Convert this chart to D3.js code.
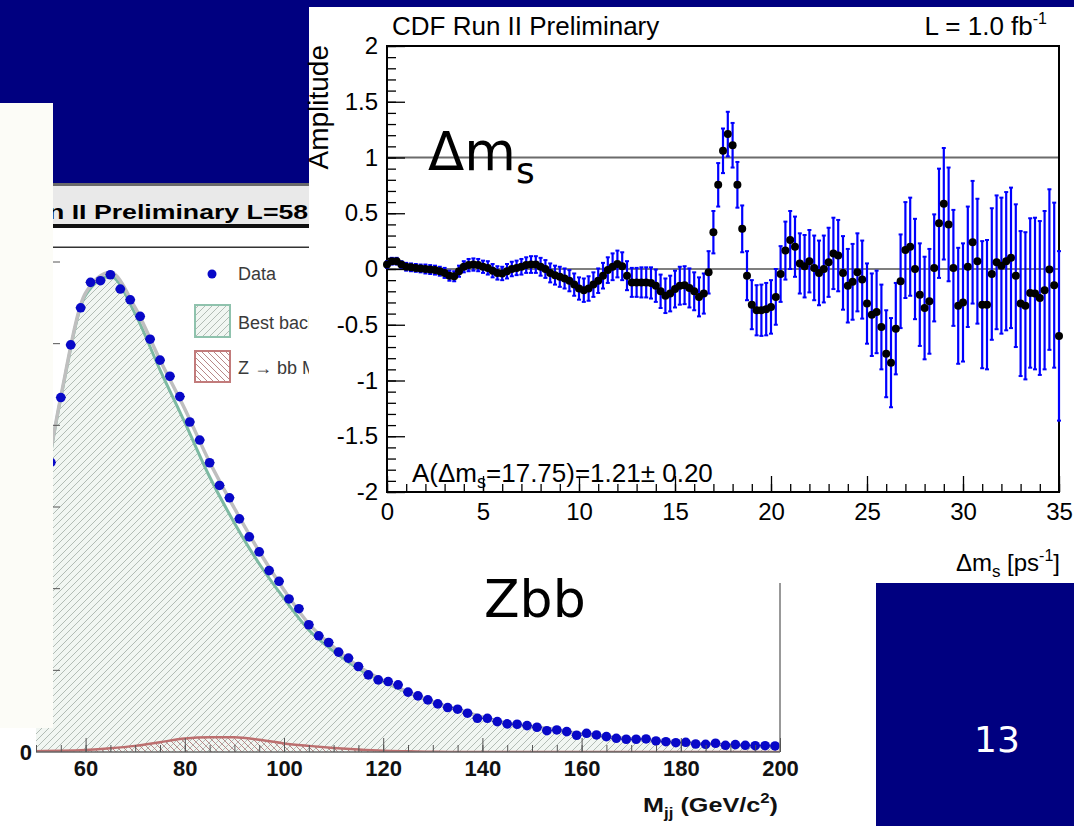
<!DOCTYPE html>
<html>
<head>
<meta charset="utf-8">
<script src="https://cdn.jsdelivr.net/npm/d3@7"></script>
<style>
html, body { margin: 0; padding: 0; background: #fff; }
svg { display: block; }
</style>
</head>
<body>
<svg id="slide" width="1074" height="826"></svg>
<script>
// ---- amplitude scan, dms = 0 ... 35 ps^-1 in 0.25 steps
const ampDms = d3.range(141).map(i => i * 0.25);
const ampValues = [
    0.04, 0.07, 0.07, 0.04, 0.02, 0.015, 0.01, 0.005,
    0.0, -0.005, -0.01, -0.02, -0.035, -0.06, -0.065, -0.02,
    0.02, 0.035, 0.04, 0.035, 0.02, 0.01, -0.015, -0.035,
    -0.04, -0.02, 0.0, 0.01, 0.02, 0.035, 0.04, 0.04,
    0.02, 0.0, -0.035, -0.055, -0.07, -0.085, -0.105, -0.14,
    -0.175, -0.19, -0.175, -0.14, -0.105, -0.06, -0.01, 0.02,
    0.045, 0.025, -0.06, -0.12, -0.12, -0.12, -0.12, -0.125,
    -0.15, -0.2, -0.24, -0.22, -0.18, -0.15, -0.145, -0.17,
    -0.20, -0.25, -0.22, -0.03, 0.33, 0.755, 1.06, 1.21,
    1.11, 0.755, 0.36, -0.06, -0.32, -0.37, -0.37, -0.36,
    -0.34, -0.25, -0.045, 0.165, 0.26, 0.20, 0.05, 0.025,
    0.07, 0.01, -0.035, 0.0, 0.06, 0.14, 0.12, -0.035,
    -0.15, -0.115, -0.03, -0.095, -0.31, -0.41, -0.385, -0.52,
    -0.76, -0.84, -0.535, -0.11, 0.17, 0.20, 0.0, -0.23,
    -0.35, -0.29, 0.01, 0.41, 0.585, 0.40, 0.01, -0.33,
    -0.30, 0.02, 0.24, 0.07, -0.32, -0.32, -0.045, 0.06,
    0.03, 0.07, 0.10, -0.06, -0.31, -0.33, -0.215, -0.22,
    -0.26, -0.19, -0.005, -0.145, -0.60
];
const ampErrors = [
    0.03, 0.03, 0.03, 0.03, 0.035, 0.035, 0.035, 0.035,
    0.04, 0.04, 0.04, 0.04, 0.045, 0.045, 0.045, 0.05,
    0.05, 0.055, 0.055, 0.055, 0.055, 0.06, 0.06, 0.06,
    0.06, 0.065, 0.065, 0.065, 0.07, 0.07, 0.075, 0.075,
    0.08, 0.08, 0.085, 0.085, 0.09, 0.09, 0.095, 0.1,
    0.1, 0.105, 0.11, 0.11, 0.11, 0.115, 0.115, 0.12,
    0.12, 0.125, 0.13, 0.13, 0.13, 0.135, 0.135, 0.14,
    0.145, 0.15, 0.155, 0.16, 0.165, 0.17, 0.17, 0.175,
    0.17, 0.175, 0.18, 0.19, 0.19, 0.195, 0.2, 0.2,
    0.2, 0.205, 0.21, 0.22, 0.22, 0.225, 0.23, 0.235,
    0.24, 0.25, 0.25, 0.26, 0.26, 0.27, 0.27, 0.28,
    0.28, 0.29, 0.29, 0.3, 0.31, 0.32, 0.32, 0.33,
    0.33, 0.34, 0.35, 0.35, 0.36, 0.37, 0.37, 0.38,
    0.39, 0.4, 0.41, 0.42, 0.43, 0.44, 0.45, 0.46,
    0.46, 0.47, 0.48, 0.49, 0.5, 0.51, 0.52, 0.52,
    0.53, 0.54, 0.55, 0.56, 0.57, 0.58, 0.59, 0.6,
    0.61, 0.62, 0.63, 0.64, 0.65, 0.66, 0.67, 0.68,
    0.69, 0.71, 0.72, 0.74, 0.76
];
const ampXTicks = [0, 5, 10, 15, 20, 25, 30, 35];
const ampYTicks = [-2, -1.5, -1, -0.5, 0, 0.5, 1, 1.5, 2];

// ---- dijet mass, 2 GeV bins
const mjjCenters = d3.range(53, 200, 2);
const mjjData = [
    3546, 4340, 4985, 5439, 5751, 5771, 5844, 5669, 5537, 5334,
    5055, 4798, 4601, 4352, 4041, 3820, 3542, 3264, 3113, 2855,
    2634, 2450, 2221, 2090, 1874, 1755, 1558, 1423, 1341, 1223,
    1150, 1047, 945, 883, 863, 822, 733, 687, 638, 589,
    544, 524, 475, 413, 413, 372, 344, 340, 323, 303,
    261, 270, 249, 205, 229, 209, 188, 168, 156, 156,
    160, 135, 126, 114, 119, 98, 94, 107, 82, 90,
    82, 77, 77, 74
];
const fitMass = d3.range(50, 201, 5);
const bkgFit = [
    2590, 4335, 5595, 5825, 5365, 4680, 4035, 3370, 2805, 2305,
    1880, 1495, 1235, 1020, 860, 727, 609, 520, 425, 350,
    312, 270, 220, 188, 158, 137, 117, 97, 87, 78, 74
];
const zbbFit = [
    10, 15, 25, 45, 75, 120, 165, 180, 180, 150,
    105, 75, 50, 30, 15, 8, 3, 0, 0, 0,
    0, 0, 0, 0, 0, 0, 0, 0, 0, 0, 0
];
const mjjTicks = [60, 80, 100, 120, 140, 160, 180, 200];

const NAVY = '#000080';
const ROOT_FONT = "'Liberation Sans', Arial, sans-serif";
const SLIDE_FONT = "'DejaVu Sans', sans-serif";

const svg = d3.select('#slide');
const defs = svg.append('defs');

// slide background
svg.append('rect').attr('width', 1074).attr('height', 826).attr('fill', '#fff');
svg.append('rect').attr('x', 0).attr('y', 0).attr('width', 1074).attr('height', 7).attr('fill', NAVY);
svg.append('rect').attr('x', 0).attr('y', 0).attr('width', 310).attr('height', 184).attr('fill', NAVY);

// hatch patterns
const hb = defs.append('pattern').attr('id', 'hatchBkg')
    .attr('patternUnits', 'userSpaceOnUse').attr('width', 7).attr('height', 7);
hb.append('rect').attr('width', 7).attr('height', 7).attr('fill', '#f1f6f2');
hb.append('path').attr('d', 'M-1,1 l2,-2 M0,7 l7,-7 M6,8 l2,-2')
    .attr('stroke', '#aab5ae').attr('stroke-width', 0.9);
const hz = defs.append('pattern').attr('id', 'hatchZ')
    .attr('patternUnits', 'userSpaceOnUse').attr('width', 6).attr('height', 6);
hz.append('path').attr('d', 'M-1,5 l2,2 M0,0 l6,6 M5,-1 l2,2')
    .attr('stroke', '#b07a7a').attr('stroke-width', 0.9);

defs.append('clipPath').attr('id', 'mjjClip')
    .append('rect').attr('x', 36).attr('y', 248).attr('width', 744).attr('height', 504);
// the part of the dijet figure not hidden by the amplitude figure
defs.append('clipPath').attr('id', 'leftVisible')
    .append('path').attr('d', 'M0,183 H309 V583 H876 V826 H0 Z');

// ================= left: dijet mass plot =================
const mx = d3.scaleLinear().domain([50, 200]).range([36, 780]);
const my = d3.scaleLinear().domain([0, 6000]).range([752, 262]);
const mjj = svg.append('g').attr('clip-path', 'url(#leftVisible)');

mjj.append('rect').attr('x', 0).attr('y', 183).attr('width', 876).attr('height', 3).attr('fill', '#6a6a6a');
mjj.append('rect').attr('x', 0).attr('y', 186).attr('width', 876).attr('height', 38).attr('fill', '#e9e9e9');
mjj.append('rect').attr('x', 0).attr('y', 224).attr('width', 876).attr('height', 4).attr('fill', '#111');
mjj.append('rect').attr('x', 0).attr('y', 246.5).attr('width', 876).attr('height', 1.5).attr('fill', '#333');

// only the part of the header that shows between the covers
mjj.append('text')
    .attr('transform', 'translate(48,219) scale(1.27,1)')
    .attr('font-family', ROOT_FONT).attr('font-weight', 'bold').attr('font-size', 21)
    .text('n II Preliminary L=58');

const fit = fitMass.map((m, i) => ({ m: m, b: bkgFit[i], z: zbbFit[i] }));
const plotArea = mjj.append('g').attr('clip-path', 'url(#mjjClip)');

plotArea.append('path').datum(fit)
    .attr('d', d3.area().x(d => mx(d.m)).y0(my(0)).y1(d => my(d.b)).curve(d3.curveMonotoneX))
    .attr('fill', 'url(#hatchBkg)');
plotArea.append('path').datum(fit)
    .attr('d', d3.line().x(d => mx(d.m)).y(d => my(d.b)).curve(d3.curveMonotoneX))
    .attr('fill', 'none').attr('stroke', '#7db9a2').attr('stroke-width', 3);
plotArea.append('path').datum(fit)
    .attr('d', d3.line().x(d => mx(d.m)).y(d => my(d.b + d.z)).curve(d3.curveMonotoneX))
    .attr('fill', 'none').attr('stroke', '#bfbfbf').attr('stroke-width', 3.5);
plotArea.append('path').datum(fit)
    .attr('d', d3.area().x(d => mx(d.m)).y0(my(0)).y1(d => my(d.z)).curve(d3.curveMonotoneX))
    .attr('fill', 'url(#hatchZ)');
plotArea.append('path').datum(fit)
    .attr('d', d3.line().x(d => mx(d.m)).y(d => my(d.z)).curve(d3.curveMonotoneX))
    .attr('fill', 'none').attr('stroke', '#bc6f6f').attr('stroke-width', 2.5);

// right frame, x axis, y ticks
mjj.append('line').attr('x1', 780).attr('x2', 780).attr('y1', 248).attr('y2', 752)
    .attr('stroke', '#777').attr('stroke-width', 1.5);
mjj.append('line').attr('x1', 36).attr('x2', 780).attr('y1', 752).attr('y2', 752)
    .attr('stroke', '#666').attr('stroke-width', 1.5);
mjj.selectAll('line.ytick').data(d3.range(1000, 6001, 1000)).join('line')
    .attr('class', 'ytick')
    .attr('x1', 36).attr('x2', 60).attr('y1', d => my(d)).attr('y2', d => my(d))
    .attr('stroke', '#555').attr('stroke-width', 1);

const mMinor = mjj.append('g').attr('transform', 'translate(0,752)')
    .call(d3.axisBottom(mx).tickValues(d3.range(50, 201, 5)).tickSize(-7).tickSizeOuter(0).tickFormat(''));
const mMajor = mjj.append('g').attr('transform', 'translate(0,752)')
    .call(d3.axisBottom(mx).tickValues(mjjTicks).tickSize(-14).tickSizeOuter(0).tickPadding(8));
[mMinor, mMajor].forEach(g => {
    g.select('.domain').remove();
    g.selectAll('.tick line').attr('stroke', '#555');
});
mMajor.selectAll('text')
    .attr('font-family', ROOT_FONT).attr('font-weight', 'bold').attr('font-size', 22).attr('fill', '#111');
mjj.append('text').attr('x', 32).attr('y', 752).attr('dy', '0.35em').attr('text-anchor', 'end')
    .attr('font-family', ROOT_FONT).attr('font-weight', 'bold').attr('font-size', 22).attr('fill', '#111')
    .text('0');

const mTitle = mjj.append('text').attr('transform', 'translate(778,812) scale(1.2,1)').attr('text-anchor', 'end')
    .attr('font-family', ROOT_FONT).attr('font-weight', 'bold').attr('font-size', 21).attr('fill', '#111');
mTitle.append('tspan').text('M');
mTitle.append('tspan').attr('font-size', 14).attr('dy', 6).text('jj');
mTitle.append('tspan').attr('dy', -6).text(' (GeV/c');
mTitle.append('tspan').attr('font-size', 14).attr('dy', -9).text('2');
mTitle.append('tspan').attr('dy', 9).text(')');

// data points
const pts = mjjCenters.map((m, i) => ({ m: m, v: mjjData[i] }));
plotArea.selectAll('line.xerr').data(pts).join('line')
    .attr('class', 'xerr')
    .attr('x1', d => mx(d.m - 1)).attr('x2', d => mx(d.m + 1))
    .attr('y1', d => my(d.v)).attr('y2', d => my(d.v))
    .attr('stroke', '#000060').attr('stroke-width', 1);
plotArea.selectAll('circle.pt').data(pts).join('circle')
    .attr('class', 'pt')
    .attr('cx', d => mx(d.m)).attr('cy', d => my(d.v)).attr('r', 4.8)
    .attr('fill', '#0808c8');

// legend (its right part is hidden under the amplitude figure)
const leg = mjj.append('g').attr('font-family', ROOT_FONT).attr('font-size', 18).attr('fill', '#3a3a3a');
leg.append('circle').attr('cx', 212).attr('cy', 274).attr('r', 4.5).attr('fill', '#0808c8');
leg.append('text').attr('x', 238).attr('y', 280).text('Data');
leg.append('rect').attr('x', 195).attr('y', 305).attr('width', 35).attr('height', 32)
    .attr('fill', 'url(#hatchBkg)').attr('stroke', '#8fc2ad').attr('stroke-width', 2);
leg.append('text').attr('x', 238).attr('y', 329).text('Best back');
leg.append('rect').attr('x', 195).attr('y', 351).attr('width', 35).attr('height', 31)
    .attr('fill', 'url(#hatchZ)').attr('stroke', '#c27b7b').attr('stroke-width', 2);
leg.append('text').attr('x', 238).attr('y', 374).text('Z \u2192 bb M');

// white cover on the left edge
svg.append('rect').attr('x', 0).attr('y', 103).attr('width', 53).attr('height', 625).attr('fill', '#fcfcf7');

// ================= right: amplitude scan =================
svg.append('rect').attr('x', 309).attr('y', 7).attr('width', 765).attr('height', 576).attr('fill', '#fff');

const ax = d3.scaleLinear().domain([0, 35]).range([387, 1059]);
const ay = d3.scaleLinear().domain([-2, 2]).range([492, 46]);
const amp = svg.append('g').attr('font-family', ROOT_FONT);

amp.append('line').attr('x1', ax(0)).attr('x2', ax(35)).attr('y1', ay(1)).attr('y2', ay(1))
    .attr('stroke', '#6b6b6b').attr('stroke-width', 2);
amp.append('line').attr('x1', ax(0)).attr('x2', ax(35)).attr('y1', ay(0)).attr('y2', ay(0))
    .attr('stroke', '#000').attr('stroke-width', 1.2);

const yMinor = amp.append('g').attr('transform', `translate(${ax(0)},0)`)
    .call(d3.axisLeft(ay).tickValues(d3.range(-20, 21).map(k => k / 10)).tickSize(-9).tickSizeOuter(0).tickFormat(''));
const yMajor = amp.append('g').attr('transform', `translate(${ax(0)},0)`)
    .call(d3.axisLeft(ay).tickValues(ampYTicks).tickSize(-18).tickSizeOuter(0).tickPadding(9)
        .tickFormat(d => String(d)));
const xMinor = amp.append('g').attr('transform', `translate(0,${ay(-2)})`)
    .call(d3.axisBottom(ax).tickValues(d3.range(0, 36)).tickSize(-8).tickSizeOuter(0).tickFormat(''));
const xMajor = amp.append('g').attr('transform', `translate(0,${ay(-2)})`)
    .call(d3.axisBottom(ax).tickValues(ampXTicks).tickSize(-16).tickSizeOuter(0).tickPadding(11));
[yMinor, yMajor, xMinor, xMajor].forEach(g => {
    g.select('.domain').remove();
    g.selectAll('.tick line').attr('stroke', '#000').attr('stroke-width', 1.3);
    g.selectAll('text').attr('font-family', ROOT_FONT).attr('font-size', 24).attr('fill', '#000');
});

amp.append('rect').attr('x', ax(0)).attr('y', ay(2)).attr('width', ax(35) - ax(0)).attr('height', ay(-2) - ay(2))
    .attr('fill', 'none').attr('stroke', '#000').attr('stroke-width', 2);

// error bars and points
const scan = ampDms.map((d, i) => ({ d: d, a: ampValues[i], e: ampErrors[i] }));
const bars = amp.append('g').attr('stroke', '#0000ff');
bars.selectAll('line.ev').data(scan).join('line')
    .attr('class', 'ev')
    .attr('x1', d => ax(d.d)).attr('x2', d => ax(d.d))
    .attr('y1', d => ay(d.a - d.e)).attr('y2', d => ay(d.a + d.e))
    .attr('stroke-width', 2.2);
bars.selectAll('line.cap-hi').data(scan).join('line')
    .attr('class', 'cap-hi')
    .attr('x1', d => ax(d.d) - 2).attr('x2', d => ax(d.d) + 2)
    .attr('y1', d => ay(d.a + d.e)).attr('y2', d => ay(d.a + d.e))
    .attr('stroke-width', 2);
bars.selectAll('line.cap-lo').data(scan).join('line')
    .attr('class', 'cap-lo')
    .attr('x1', d => ax(d.d) - 2).attr('x2', d => ax(d.d) + 2)
    .attr('y1', d => ay(d.a - d.e)).attr('y2', d => ay(d.a - d.e))
    .attr('stroke-width', 2);
amp.selectAll('circle.amp').data(scan).join('circle')
    .attr('class', 'amp')
    .attr('cx', d => ax(d.d)).attr('cy', d => ay(d.a)).attr('r', 4)
    .attr('fill', '#000');

// texts
amp.append('text').attr('x', 392).attr('y', 35).attr('font-size', 26).text('CDF Run II Preliminary');
const lumi = amp.append('text').attr('x', 1047).attr('y', 35).attr('text-anchor', 'end').attr('font-size', 26);
lumi.append('tspan').text('L = 1.0 fb');
lumi.append('tspan').attr('font-size', 16).attr('dy', -11).text('-1');

amp.append('text').attr('transform', 'translate(328,45) rotate(-90)').attr('text-anchor', 'end')
    .attr('font-size', 28).text('Amplitude');

const fitTxt = amp.append('text').attr('x', 412).attr('y', 482).attr('font-size', 26);
fitTxt.append('tspan').text('A(\u0394m');
fitTxt.append('tspan').attr('font-size', 18).attr('dy', 6).text('s');
fitTxt.append('tspan').attr('dy', -6).text('=17.75)=1.21\u00b1 0.20');

const xTitle = amp.append('text').attr('x', 1060).attr('y', 571).attr('text-anchor', 'end').attr('font-size', 24);
xTitle.append('tspan').text('\u0394m');
xTitle.append('tspan').attr('font-size', 17).attr('dy', 6).text('s');
xTitle.append('tspan').attr('dy', -6).text(' [ps');
xTitle.append('tspan').attr('font-size', 16).attr('dy', -10).text('-1');
xTitle.append('tspan').attr('dy', 10).text(']');

// ================= slide overlays =================
svg.append('rect').attr('x', 876).attr('y', 583).attr('width', 198).attr('height', 243).attr('fill', NAVY);
svg.append('text').attr('x', 997).attr('y', 752).attr('text-anchor', 'middle')
    .attr('font-family', SLIDE_FONT).attr('font-size', 36).attr('fill', '#fff').text('13');

const dms = svg.append('text').attr('x', 428).attr('y', 170)
    .attr('font-family', SLIDE_FONT).attr('font-size', 53).attr('fill', '#000');
dms.append('tspan').text('\u0394m');
dms.append('tspan').attr('font-size', 36).attr('dy', 13).text('s');

svg.append('text').attr('x', 484).attr('y', 617)
    .attr('font-family', SLIDE_FONT).attr('font-size', 52).attr('fill', '#000').text('Zbb');
</script>
</body>
</html>
